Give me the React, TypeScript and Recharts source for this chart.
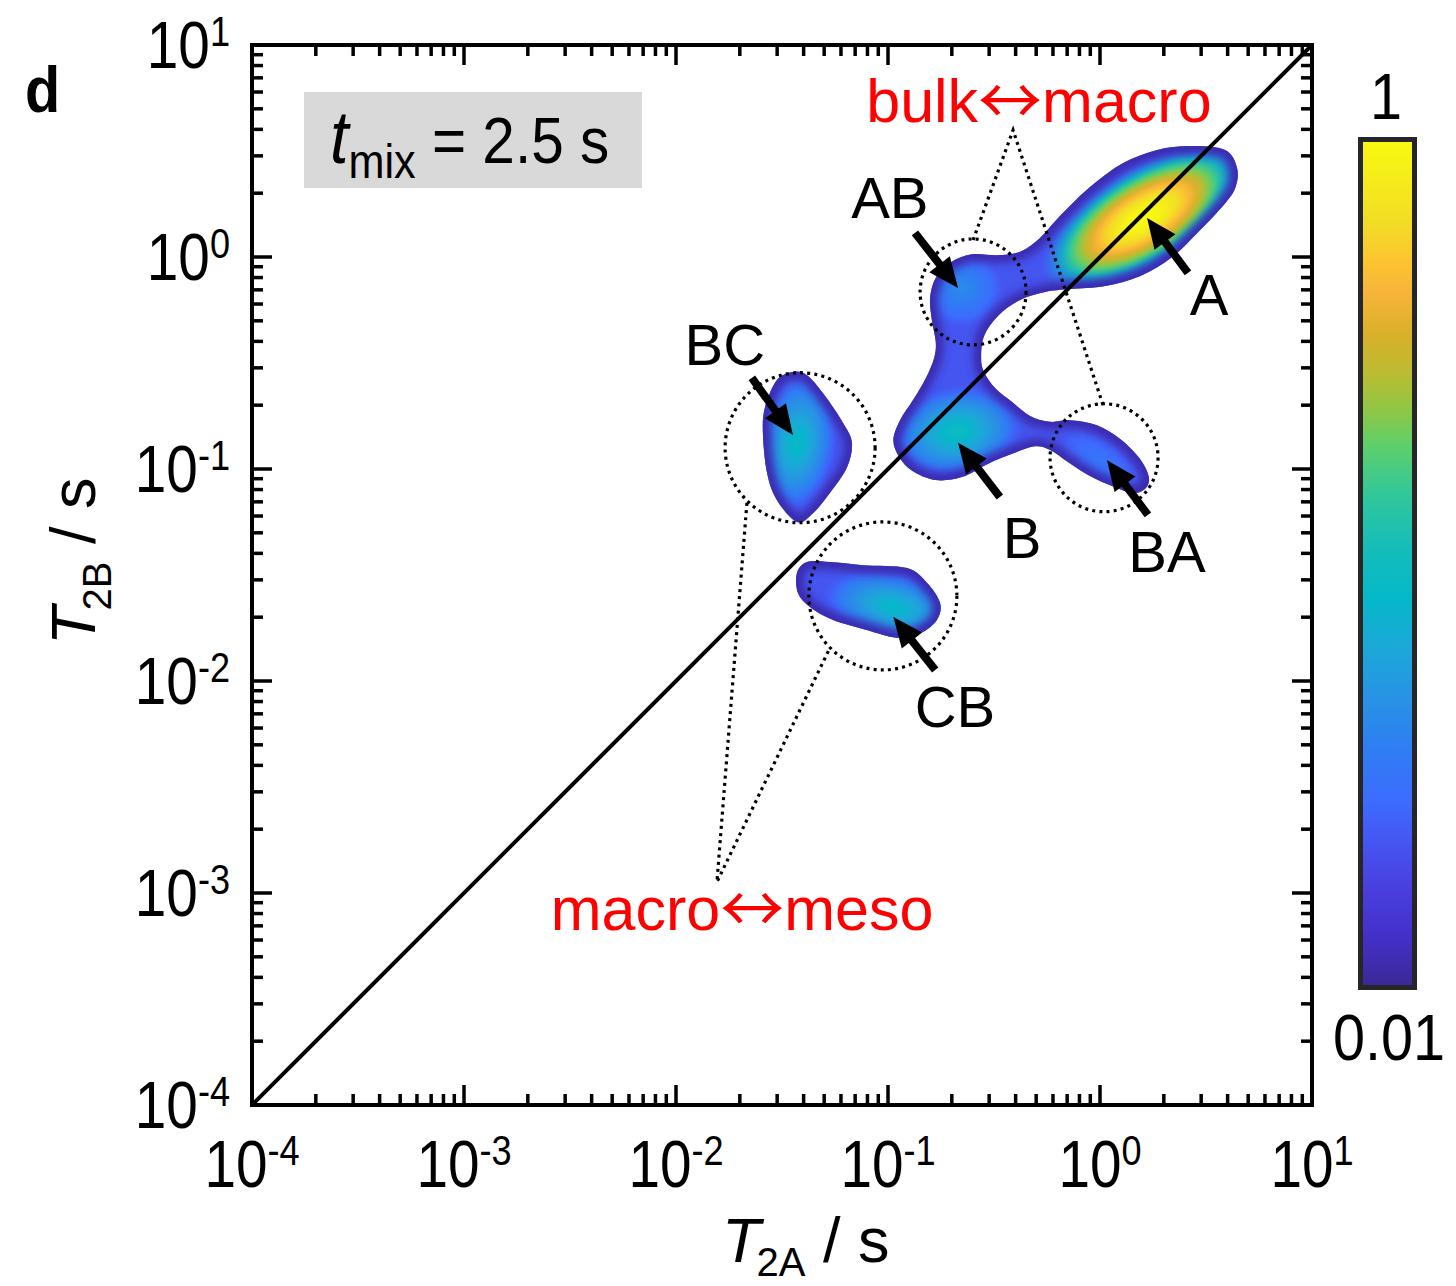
import React from 'react';
import { ScatterChart, Scatter, XAxis, YAxis } from 'recharts';

const FONT = '"Liberation Sans", Arial, Helvetica, sans-serif';

// ---------------- data (T2A, T2B in seconds) ----------------
const tickExponents = [-4, -3, -2, -1, 0, 1];
const minorMultipliers = [2, 3, 4, 5, 6, 7, 8, 9];
const axisDomain: [number, number] = [1e-4, 10];

// outline of the connected A / AB / B / BA region
const mainBlob: [number, number][] = [
  [3.89, 3.2], [4.43, 2.63], [4.34, 2.11], [3.76, 1.72], [2.9, 1.31], [2.19, 1.0], [1.55, 0.813], [1.06, 0.729],
  [0.721, 0.706], [0.551, 0.684], [0.42, 0.627], [0.33, 0.527], [0.284, 0.424], [0.275, 0.334], [0.284, 0.287],
  [0.32, 0.241], [0.385, 0.207], [0.468, 0.178], [0.581, 0.167], [0.721, 0.17], [0.968, 0.161], [1.24, 0.139],
  [1.53, 0.113], [1.7, 0.0916], [1.63, 0.0805], [1.42, 0.0771], [1.14, 0.0832], [0.897, 0.0927], [0.706, 0.108],
  [0.581, 0.123], [0.493, 0.128], [0.385, 0.118], [0.297, 0.106], [0.223, 0.0916], [0.167, 0.0887], [0.13, 0.098],
  [0.113, 0.114], [0.106, 0.137], [0.114, 0.17], [0.131, 0.211], [0.151, 0.269], [0.165, 0.334], [0.168, 0.397],
  [0.161, 0.505], [0.158, 0.641], [0.168, 0.796], [0.196, 0.938], [0.249, 1.03], [0.327, 1.02], [0.42, 1.06],
  [0.521, 1.23], [0.647, 1.56], [0.897, 2.14], [1.28, 2.77], [1.86, 3.2], [2.66, 3.34],
];
const bcBlob: [number, number][] = [
  [0.0356, 0.287], [0.0415, 0.277], [0.0493, 0.228], [0.0614, 0.165], [0.0676, 0.133], [0.0641, 0.102],
  [0.0532, 0.0771], [0.0443, 0.0619], [0.0372, 0.0562], [0.0299, 0.0715], [0.0269, 0.0957], [0.0257, 0.148],
  [0.0263, 0.196], [0.0299, 0.263],
];
const cbBlob: [number, number][] = [
  [0.0372, 0.0323], [0.0415, 0.0364], [0.0532, 0.0364], [0.0762, 0.0352], [0.123, 0.0341], [0.153, 0.029],
  [0.176, 0.0233], [0.17, 0.0194], [0.142, 0.0168], [0.11, 0.016], [0.0796, 0.0174], [0.0551, 0.0194],
  [0.0429, 0.0223], [0.0376, 0.026],
];

const peakNames = ['A', 'AB', 'B', 'BA', 'BC', 'CB'];
const peakT2A = [1.6, 0.223, 0.211, 1.0, 0.0372, 0.106];
const peakT2B = [1.53, 0.715, 0.15, 0.108, 0.133, 0.0223];
const peakAmp = [1.0, 0.044, 0.1, 0.033, 0.091, 0.087];
const peakBlob = ['main', 'main', 'main', 'main', 'bc', 'cb'];

const circleNames = ['AB', 'BC', 'CB', 'BA'];
const circleT2A = [0.252, 0.0385, 0.0946, 1.045];
const circleT2B = [0.684, 0.126, 0.0252, 0.113];

const arrowNames = ['AB', 'A', 'BC', 'B', 'BA', 'CB'];
const arrowTail: [number, number][] = [[0.134, 1.3], [2.6, 0.841], [0.0228, 0.269], [0.337, 0.0738], [1.683, 0.0607], [0.167, 0.01127]];
const arrowTip: [number, number][] = [[0.214, 0.715], [1.667, 1.528], [0.0356, 0.1445], [0.214, 0.133], [1.079, 0.11], [0.106, 0.02004]];

const labelTexts = ['AB', 'A', 'BC', 'B', 'BA', 'CB'];
const labelT2A = [0.102, 3.27, 0.017, 0.4285, 2.07, 0.207];
const labelT2B = [1.53, 0.532, 0.31, 0.038, 0.0327, 0.00607];

// red notes: [left word, right word]
const noteWords: [string, string][] = [['bulk', 'macro'], ['macro', 'meso']];
const noteT2A = [0.515, 0.0205];
const noteT2B = [4.34, 0.000668];

const leaderBulk: [number, number][] = [[0.252, 1.202], [0.389, 3.97], [1.033, 0.2004]];
const leaderMeso: [number, number][] = [[0.0216, 0.0692], [0.0156, 0.001127], [0.0532, 0.01432]];

const diagonal: [number, number][] = [[1e-4, 1e-4], [10, 10]];

const colorbarTop = '1';
const colorbarBottom = '0.01';
// colormap stops from bottom (0.01) to top (1)
const colormapPos = [0, 0.06, 0.12, 0.18, 0.22, 0.28, 0.34, 0.4, 0.46, 0.52, 0.58, 0.64, 0.68, 0.72, 0.77, 0.82, 0.86, 0.9, 1.0];
const colormapHex = ['#3a2896', '#4330c9', '#4940e0', '#4459f3', '#3c6cfe', '#2f7df3', '#2892e5', '#1ca8d8', '#05b8c9', '#16bdb8',
  '#30c79a', '#5fcf6b', '#8ec746', '#b7bd33', '#d9b02a', '#f7b43a', '#fcc62f', '#f2dc26', '#f8fa10'];

// ---------------- styles ----------------
const PEAK_STYLE: Record<string, { rx: number; ry: number; rot: number; pow: number }> = {
  A: { rx: 120, ry: 52, rot: -32, pow: 1.9 },
  AB: { rx: 44, ry: 42, rot: 0, pow: 1.2 },
  B: { rx: 70, ry: 48, rot: -10, pow: 1.2 },
  BA: { rx: 50, ry: 25, rot: 35, pow: 1.2 },
  BC: { rx: 42, ry: 75, rot: 8, pow: 1.2 },
  CB: { rx: 75, ry: 38, rot: 12, pow: 1.2 },
};
const CIRCLE_R: Record<string, number> = { AB: 53, BC: 75, CB: 74, BA: 54 };
const T_BASE = 0.17;
const RIM_COLOR = '#3a2aae';

// ---------------- helpers ----------------
const toPts = (arr: [number, number][]) => arr.map(([x, y]) => ({ x, y }));
const hexToRgb = (h: string) => [parseInt(h.slice(1, 3), 16), parseInt(h.slice(3, 5), 16), parseInt(h.slice(5, 7), 16)];
function cmap(t: number): string {
  const tt = Math.max(0, Math.min(1, t));
  let i = 0;
  while (i < colormapPos.length - 2 && tt > colormapPos[i + 1]) i++;
  const f = (tt - colormapPos[i]) / (colormapPos[i + 1] - colormapPos[i]);
  const a = hexToRgb(colormapHex[i]);
  const b = hexToRgb(colormapHex[i + 1]);
  const c = a.map((v, k) => Math.round(v + (b[k] - v) * f));
  return `rgb(${c[0]},${c[1]},${c[2]})`;
}
const BODY_COLOR = cmap(T_BASE);

function smoothClosedPath(pts: { x: number; y: number }[]) {
  const n = pts.length;
  let d = `M${pts[0].x},${pts[0].y}`;
  for (let i = 0; i < n; i++) {
    const p0 = pts[(i - 1 + n) % n], p1 = pts[i], p2 = pts[(i + 1) % n], p3 = pts[(i + 2) % n];
    const c1x = p1.x + (p2.x - p0.x) / 6, c1y = p1.y + (p2.y - p0.y) / 6;
    const c2x = p2.x - (p3.x - p1.x) / 6, c2y = p2.y - (p3.y - p1.y) / 6;
    d += ` C${c1x},${c1y} ${c2x},${c2y} ${p2.x},${p2.y}`;
  }
  return d + 'Z';
}

const isMajor = (v: number) => Math.abs(Math.log10(v) - Math.round(Math.log10(v))) < 1e-6;
const allTicks = tickExponents.flatMap((e) => [Math.pow(10, e), ...(e < 1 ? minorMultipliers.map((m) => m * Math.pow(10, e)) : [])]);

const NoShape = () => <g />;

const BlobOutline = (props: any) => {
  const { points, blobId, layer } = props;
  if (!points || points.length < 3) return <g />;
  const d = smoothClosedPath(points);
  if (layer === 'body') {
    return (
      <g>
        <defs>
          <clipPath id={`clip-${blobId}`}><path d={d} /></clipPath>
        </defs>
        <path d={d} fill={BODY_COLOR} />
      </g>
    );
  }
  return (
    <g clipPath={`url(#clip-${blobId})`}>
      <defs>
        <filter id={`rimblur-${blobId}`} x="-10%" y="-10%" width="120%" height="120%">
          <feGaussianBlur stdDeviation={4} />
        </filter>
      </defs>
      <path d={d} fill="none" stroke={RIM_COLOR} strokeWidth={16} filter={`url(#rimblur-${blobId})`} />
    </g>
  );
};

const PeakShape = (props: any) => {
  const { cx, cy, payload } = props;
  if (cx == null || cy == null) return <g />;
  const st = PEAK_STYLE[payload.name];
  const tPeak = (Math.log10(payload.amp) + 2) / 2;
  const gid = `peakgrad-${payload.name}`;
  const stops: React.ReactNode[] = [];
  const N = 16;
  for (let k = 0; k <= N; k++) {
    const r = k / N;
    const t = T_BASE + (tPeak - T_BASE) * (1 - Math.pow(r, st.pow));
    const op = r <= 0.72 ? 1 : Math.max(0, (1 - r) / 0.28);
    stops.push(<stop key={k} offset={r} stopColor={cmap(t)} stopOpacity={op} />);
  }
  return (
    <g clipPath={`url(#clip-${payload.blob})`}>
      <defs>
        <radialGradient id={gid} cx="50%" cy="50%" r="50%">{stops}</radialGradient>
      </defs>
      <ellipse cx={cx} cy={cy} rx={st.rx} ry={st.ry} transform={`rotate(${st.rot} ${cx} ${cy})`} fill={`url(#${gid})`} />
    </g>
  );
};

const CircleShape = (props: any) => {
  const { cx, cy, payload } = props;
  if (cx == null) return <g />;
  return <circle cx={cx} cy={cy} r={CIRCLE_R[payload.name]} fill="none" stroke="#000" strokeWidth={3.2} strokeDasharray="3 4.2" />;
};

const ArrowLine = (props: any) => {
  const pts = props.points;
  if (!pts || pts.length < 2) return <g />;
  const a = pts[0], b = pts[1];
  const dx = b.x - a.x, dy = b.y - a.y;
  const L = Math.hypot(dx, dy) || 1;
  const ux = dx / L, uy = dy / L;
  const head = 30, hw = 13;
  const bx = b.x - ux * head, by = b.y - uy * head;
  return (
    <g>
      <line x1={a.x} y1={a.y} x2={bx + ux * 3} y2={by + uy * 3} stroke="#000" strokeWidth={8} />
      <polygon points={`${b.x},${b.y} ${bx - uy * hw},${by + ux * hw} ${bx + uy * hw},${by - ux * hw}`} fill="#000" />
    </g>
  );
};

const LabelShape = (props: any) => {
  const { cx, cy, payload } = props;
  if (cx == null) return <g />;
  return (
    <text x={cx} y={cy} textAnchor="middle" fontFamily={FONT} fontSize={58} fill="#000">
      {payload.text}
    </text>
  );
};

const NoteShape = (props: any) => {
  const { cx, cy, payload } = props;
  if (cx == null) return <g />;
  return (
    <text x={cx} y={cy} textAnchor="middle" fontFamily={FONT} fontSize={61} fill="#ff0000">
      {payload.left}
      <tspan fontSize={64} dy={2} fontFamily='"Noto Sans CJK SC", "Noto Sans CJK JP", sans-serif'>{'\u2194'}</tspan>
      <tspan dy={-2}>{payload.right}</tspan>
    </text>
  );
};

const TICK_W = 3.5;
const MAJOR_LEN = 20;
const MINOR_LEN = 11;

const expLabel = (v: number) => String(Math.round(Math.log10(v)));

const BottomTick = (props: any) => {
  const { x, y, payload } = props;
  const v = payload.value;
  const major = isMajor(v);
  return (
    <g>
      <line x1={x} x2={x} y1={y} y2={y - (major ? MAJOR_LEN : MINOR_LEN)} stroke="#000" strokeWidth={TICK_W} />
      {major && (
        <text transform={`translate(${x},${y + 82}) scale(0.86,1)`} textAnchor="middle" fontFamily={FONT} fontSize={66} fill="#000">
          10<tspan dy={-22} fontSize={42}>{expLabel(v)}</tspan>
        </text>
      )}
    </g>
  );
};
const TopTick = (props: any) => {
  const { x, y, payload } = props;
  const major = isMajor(payload.value);
  return <line x1={x} x2={x} y1={y} y2={y + (major ? MAJOR_LEN : MINOR_LEN)} stroke="#000" strokeWidth={TICK_W} />;
};
const LeftTick = (props: any) => {
  const { x, y, payload } = props;
  const v = payload.value;
  const major = isMajor(v);
  return (
    <g>
      <line x1={x} x2={x + (major ? MAJOR_LEN : MINOR_LEN)} y1={y} y2={y} stroke="#000" strokeWidth={TICK_W} />
      {major && (
        <text transform={`translate(${x - 22},${y + 23}) scale(0.86,1)`} textAnchor="end" fontFamily={FONT} fontSize={66} fill="#000">
          10<tspan dy={-22} fontSize={42}>{expLabel(v)}</tspan>
        </text>
      )}
    </g>
  );
};
const RightTick = (props: any) => {
  const { x, y, payload } = props;
  const major = isMajor(payload.value);
  return <line x1={x} x2={x - (major ? MAJOR_LEN : MINOR_LEN)} y1={y} y2={y} stroke="#000" strokeWidth={TICK_W} />;
};

const axisLine = { stroke: '#000', strokeWidth: 4, strokeLinecap: 'square' as const };

const CH_W = 1440;
const CH_H = 1278;

export default function App() {
  const peaks = peakNames.map((name, i) => ({ name, x: peakT2A[i], y: peakT2B[i], amp: peakAmp[i], blob: peakBlob[i] }));
  const circles = circleNames.map((name, i) => ({ name, x: circleT2A[i], y: circleT2B[i] }));
  const labels = labelTexts.map((text, i) => ({ text, x: labelT2A[i], y: labelT2B[i] }));
  const notes = noteWords.map(([left, right], i) => ({ left, right, x: noteT2A[i], y: noteT2B[i] }));
  const blobs: { id: string; pts: [number, number][] }[] = [
    { id: 'main', pts: mainBlob },
    { id: 'bc', pts: bcBlob },
    { id: 'cb', pts: cbBlob },
  ];

  const cbX = 1352.5, cbY = 131.5, cbW = 54, cbH = 848;

  return (
    <div style={{ position: 'relative', width: CH_W, height: CH_H }}>
      <ScatterChart width={CH_W} height={CH_H} margin={{ top: 36, right: 135, bottom: 180, left: 243 }}>
        <XAxis xAxisId="bottom" dataKey="x" type="number" scale="log" domain={axisDomain} ticks={allTicks} interval={0}
          height={1} tickSize={0} tickMargin={0} tickLine={false} axisLine={axisLine} tick={BottomTick} />
        <XAxis xAxisId="top" orientation="top" dataKey="x" type="number" scale="log" domain={axisDomain} ticks={allTicks} interval={0}
          height={1} tickSize={0} tickMargin={0} tickLine={false} axisLine={axisLine} tick={TopTick} />
        <YAxis yAxisId="left" dataKey="y" type="number" scale="log" domain={axisDomain} ticks={allTicks} interval={0}
          width={1} tickSize={0} tickMargin={0} tickLine={false} axisLine={axisLine} tick={LeftTick} />
        <YAxis yAxisId="right" orientation="right" dataKey="y" type="number" scale="log" domain={axisDomain} ticks={allTicks} interval={0}
          width={1} tickSize={0} tickMargin={0} tickLine={false} axisLine={axisLine} tick={RightTick} />

        {blobs.map((b) => (
          <Scatter key={`body-${b.id}`} xAxisId="bottom" yAxisId="left" data={toPts(b.pts)} shape={NoShape}
            line={<BlobOutline blobId={b.id} layer="body" />} isAnimationActive={false} />
        ))}
        <Scatter xAxisId="bottom" yAxisId="left" data={peaks} shape={PeakShape} isAnimationActive={false} />
        {blobs.map((b) => (
          <Scatter key={`rim-${b.id}`} xAxisId="bottom" yAxisId="left" data={toPts(b.pts)} shape={NoShape}
            line={<BlobOutline blobId={b.id} layer="rim" />} isAnimationActive={false} />
        ))}

        <Scatter xAxisId="top" yAxisId="right" data={toPts(diagonal)} shape={NoShape}
          line={{ stroke: '#000', strokeWidth: 4 }} lineJointType="linear" isAnimationActive={false} />

        {[leaderBulk, leaderMeso].map((ld, i) => (
          <Scatter key={`leader-${i}`} xAxisId="bottom" yAxisId="left" data={toPts(ld)} shape={NoShape}
            line={{ stroke: '#000', strokeWidth: 3.2, strokeDasharray: '3 4.2' }} lineJointType="linear" isAnimationActive={false} />
        ))}
        <Scatter xAxisId="bottom" yAxisId="left" data={circles} shape={CircleShape} isAnimationActive={false} />
        {arrowNames.map((name, i) => (
          <Scatter key={`arrow-${name}`} xAxisId="bottom" yAxisId="left"
            data={[{ x: arrowTail[i][0], y: arrowTail[i][1] }, { x: arrowTip[i][0], y: arrowTip[i][1] }]}
            shape={NoShape} line={<ArrowLine />} isAnimationActive={false} />
        ))}
        <Scatter xAxisId="bottom" yAxisId="left" data={labels} shape={LabelShape} isAnimationActive={false} />
        <Scatter xAxisId="bottom" yAxisId="left" data={notes} shape={NoteShape} isAnimationActive={false} />
      </ScatterChart>

      <svg width={CH_W} height={CH_H} style={{ position: 'absolute', left: 0, top: 0, pointerEvents: 'none' }}>
        <defs>
          <linearGradient id="cbar" x1="0" y1="1" x2="0" y2="0">
            {colormapPos.map((p, i) => (
              <stop key={i} offset={p} stopColor={colormapHex[i]} />
            ))}
          </linearGradient>
        </defs>
        {/* panel letter */}
        <text transform="translate(17,104) scale(0.9,1)" fontFamily={FONT} fontWeight="bold" fontSize={64} fill="#000">d</text>
        {/* t_mix box */}
        <rect x={296} y={84} width={338} height={96} fill="#d9d9d9" />
        <text transform="translate(322,155) scale(0.9,1)" fontFamily={FONT} fill="#000">
          <tspan fontStyle="italic" fontSize={74}>t</tspan>
          <tspan fontSize={48} dy={15}>mix</tspan>
          <tspan fontSize={65} dy={-15}> = 2.5 s</tspan>
        </text>
        {/* axis titles */}
        <text x={714} y={1254} fontFamily={FONT} fontSize={63} fill="#000">
          <tspan fontStyle="italic">T</tspan>
          <tspan fontSize={40} dy={14} dx={-4}>2A</tspan>
          <tspan dy={-14}> / s</tspan>
        </text>
        <text transform="translate(87,637) rotate(-90)" fontFamily={FONT} fontSize={63} fill="#000">
          <tspan fontStyle="italic">T</tspan>
          <tspan fontSize={40} dy={16} dx={-4}>2B</tspan>
          <tspan dy={-16}> / s</tspan>
        </text>
        {/* colour bar */}
        <rect x={cbX} y={cbY} width={cbW} height={cbH} fill="url(#cbar)" stroke="#262626" strokeWidth={5} />
        <text transform="translate(1378,111) scale(0.9,1)" textAnchor="middle" fontFamily={FONT} fontSize={64} fill="#000">{colorbarTop}</text>
        <text transform="translate(1381,1052) scale(0.9,1)" textAnchor="middle" fontFamily={FONT} fontSize={64} fill="#000">{colorbarBottom}</text>
      </svg>
    </div>
  );
}
